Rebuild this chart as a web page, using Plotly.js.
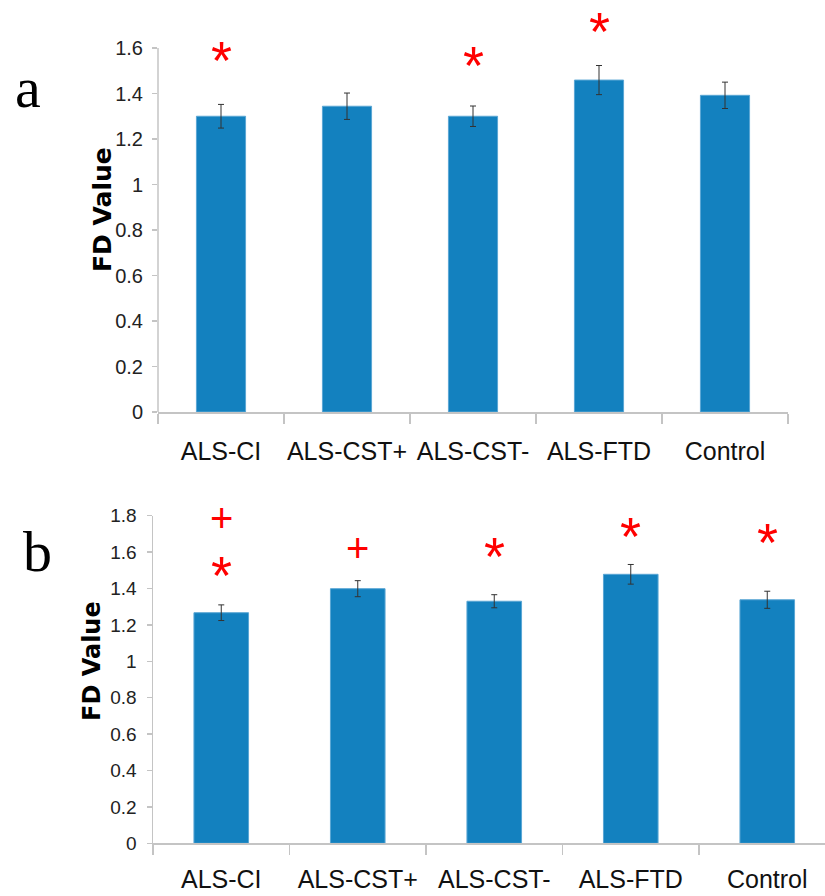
<!DOCTYPE html>
<html>
<head>
<meta charset="utf-8">
<script src="https://cdn.plot.ly/plotly-3.0.1.min.js"></script>
<style>
  html, body { margin: 0; padding: 0; background: #fff; overflow: hidden; }
  #chart { width: 825px; height: 896px; }
</style>
</head>
<body>
<div id="chart"></div>
<script>
// ---- data ----
const categories = ['ALS-CI', 'ALS-CST+', 'ALS-CST-', 'ALS-FTD', 'Control'];

const fdA = [1.300, 1.344, 1.300, 1.459, 1.392];
const errA = [0.052, 0.058, 0.045, 0.064, 0.058];

const fdB = [1.267, 1.399, 1.330, 1.478, 1.338];
const errB = [0.043, 0.044, 0.036, 0.054, 0.047];

const starCatsA = ['ALS-CI', 'ALS-CST-', 'ALS-FTD'];
const starYA = [1.58, 1.556, 1.705];

const starCatsB = ['ALS-CI', 'ALS-CST-', 'ALS-FTD', 'Control'];
const starYB = [1.517, 1.621, 1.731, 1.698];

const plusCatsB = ['ALS-CI', 'ALS-CST+'];
const plusYB = [1.797, 1.635];

const yTicksA = [0, 0.2, 0.4, 0.6, 0.8, 1, 1.2, 1.4, 1.6];
const yTickTextA = ['0', '0.2', '0.4', '0.6', '0.8', '1', '1.2', '1.4', '1.6'];
const yTicksB = [0, 0.2, 0.4, 0.6, 0.8, 1, 1.2, 1.4, 1.6, 1.8];
const yTickTextB = ['0', '0.2', '0.4', '0.6', '0.8', '1', '1.2', '1.4', '1.6', '1.8'];

// ---- style ----
const W = 825, H = 896;
const barColor = '#1381bf';
const axisColor = '#c4c4c4';
const sans = '"Liberation Sans", Arial, sans-serif';

function px2x(p) { return p / W; }
function px2y(p) { return (H - p) / H; }

const traces = [
  {
    type: 'bar', x: categories, y: fdA, xaxis: 'x', yaxis: 'y',
    width: 0.39,
    marker: { color: barColor, line: { color: '#5aa6d4', width: 1 } },
    error_y: { type: 'data', array: errA, visible: true, color: '#333', thickness: 1, width: 3 },
    hoverinfo: 'none'
  },
  {
    type: 'bar', x: categories, y: fdB, xaxis: 'x2', yaxis: 'y2',
    width: 0.40,
    marker: { color: barColor, line: { color: '#5aa6d4', width: 1 } },
    error_y: { type: 'data', array: errB, visible: true, color: '#333', thickness: 1, width: 3 },
    hoverinfo: 'none'
  }
];

const annotations = [];
const starFont = { family: sans, size: 54, color: '#ff0000' };
const plusFont = { family: sans, size: 40, color: '#ff0000' };
starCatsA.forEach((c, i) => annotations.push({
  x: c, y: starYA[i], xref: 'x', yref: 'y', text: '*', showarrow: false,
  font: starFont, xanchor: 'center', yanchor: 'middle', yshift: -7
}));
starCatsB.forEach((c, i) => annotations.push({
  x: c, y: starYB[i], xref: 'x2', yref: 'y2', text: '*', showarrow: false,
  font: starFont, xanchor: 'center', yanchor: 'middle', yshift: -8
}));
plusCatsB.forEach((c, i) => annotations.push({
  x: c, y: plusYB[i], xref: 'x2', yref: 'y2', text: '+', showarrow: false,
  font: plusFont, xanchor: 'center', yanchor: 'middle', yshift: -2
}));

// panel letters
annotations.push({ x: px2x(28), y: px2y(87), xref: 'paper', yref: 'paper', text: 'a', showarrow: false,
  font: { family: '"Liberation Serif", "Times New Roman", serif', size: 58, color: '#000' },
  xanchor: 'center', yanchor: 'middle' });
annotations.push({ x: px2x(37), y: px2y(551), xref: 'paper', yref: 'paper', text: 'b', showarrow: false,
  font: { family: '"Liberation Serif", "Times New Roman", serif', size: 58, color: '#000' },
  xanchor: 'center', yanchor: 'middle' });

// y titles
annotations.push({ x: px2x(102), y: px2y(210), xref: 'paper', yref: 'paper', text: '<b>FD Value</b>', showarrow: false,
  textangle: -90, font: { family: '"DejaVu Sans", Arial, sans-serif', size: 25, color: '#000' },
  xanchor: 'center', yanchor: 'middle' });
annotations.push({ x: px2x(92), y: px2y(661), xref: 'paper', yref: 'paper', text: '<b>FD Value</b>', showarrow: false,
  textangle: -90, font: { family: '"DejaVu Sans", Arial, sans-serif', size: 24, color: '#000' },
  xanchor: 'center', yanchor: 'middle' });

// vertical axis line of panel a (ends at the top tick, 1.6)
const shapes = [
  { type: 'line', xref: 'x domain', yref: 'y', x0: 0, x1: 0, y0: 0, y1: yTicksA[yTicksA.length - 1],
    line: { color: axisColor, width: 1.5 } }
];

const xaxisCommon = {
  type: 'category', showline: true, linecolor: axisColor, linewidth: 1.5,
  ticks: 'outside', tickson: 'boundaries', ticklen: 10, tickcolor: axisColor, tickwidth: 1.5,
  showgrid: false, zeroline: false, fixedrange: true, tickangle: 0,
  tickfont: { family: sans, size: 25, color: '#111' }
};
const yaxisCommon = {
  ticks: 'outside', ticklen: 5, tickcolor: axisColor, tickwidth: 1.5,
  showgrid: false, zeroline: false, fixedrange: true, tickmode: 'array'
};

// panel a: 0 at 412 px, 1.6 at 48 px -> range top 1.75 at ~13.9 px
const aBottom = 412, aPerUnit = (412 - 48) / 1.6, aTopVal = 1.75;

const layout = {
  width: W, height: H,
  margin: { l: 0, r: 0, t: 0, b: 0 },
  paper_bgcolor: '#fff', plot_bgcolor: '#fff',
  showlegend: false,
  xaxis: Object.assign({}, xaxisCommon, {
    domain: [px2x(158), px2x(788)], anchor: 'y', range: [-0.5, 4.5], ticklabelstandoff: 16
  }),
  yaxis: Object.assign({}, yaxisCommon, {
    showline: false,
    domain: [px2y(aBottom), px2y(aBottom - aTopVal * aPerUnit)], anchor: 'x', range: [0, aTopVal],
    tickvals: yTicksA, ticktext: yTickTextA, ticklabelstandoff: 5,
    tickfont: { family: sans, size: 20, color: '#222' }
  }),
  xaxis2: Object.assign({}, xaxisCommon, {
    domain: [px2x(153), 1], anchor: 'y2', range: [-0.5, 4.423], ticklabelstandoff: 13
  }),
  yaxis2: Object.assign({}, yaxisCommon, {
    showline: true, linecolor: axisColor, linewidth: 1.5,
    domain: [px2y(843.3), px2y(515.7)], anchor: 'x2', range: [0, 1.8],
    tickvals: yTicksB, ticktext: yTickTextB, ticklabelstandoff: 6,
    tickfont: { family: sans, size: 19, color: '#222' }
  }),
  annotations: annotations,
  shapes: shapes
};

Plotly.newPlot('chart', traces, layout, { displayModeBar: false, staticPlot: true });
</script>
</body>
</html>
